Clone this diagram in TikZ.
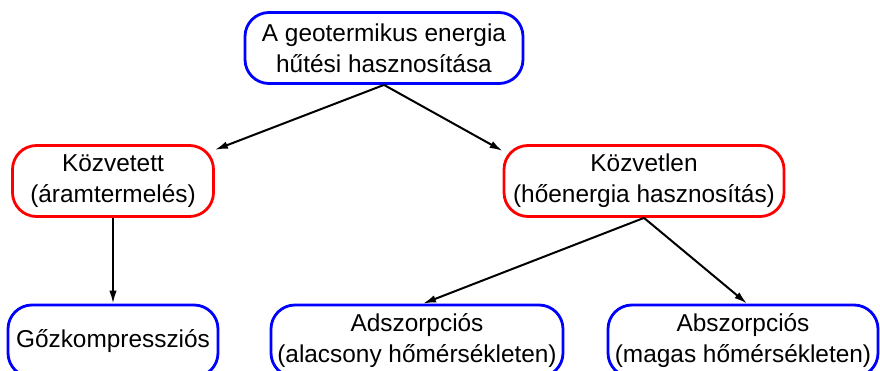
\documentclass[tikz,border=0pt]{standalone}
\usepackage{fontspec}
\setmainfont{Liberation Sans}
\usetikzlibrary{arrows.meta}
\tikzset{
	cooling tree/.style={
		x=1pt,y=-1pt, % one unit per pixel, y running downwards
		font=\fontsize{24.4}{31}\selectfont,
		branch edge/.style={
			line width=2pt,
			-{Latex[length=13pt,width=7.5pt]}
		}
	},
	use box/.style={
		rectangle,
		rounded corners=24pt,
		line width=2.8pt,
		align=center,
		minimum height=71pt,
		inner sep=0pt,
		fill=white
	},
	blue box/.style={
		use box,
		draw=blue
	},
	red box/.style={
		use box,
		draw=red
	}
}

\begin{document}
\begin{tikzpicture}[cooling tree]
	\useasboundingbox (0,0) rectangle (880,371);
	% root
	\node[blue box,minimum width=278pt] (hutes) at (384,48)
		{A geotermikus energia\\h\H{u}t\'esi hasznos\'it\'asa};
	% second level
	\node[red box,minimum width=201pt] (kozvetett) at (113,181)
		{K\"ozvetett\\(\'aramtermel\'es)};
	\node[red box,minimum width=280pt] (kozvetlen) at (644,181)
		{K\"ozvetlen\\(h\H{o}energia hasznos\'it\'as)};
	% leaves, cut by the lower edge
	\node[blue box,minimum width=210pt,minimum height=72pt] (gozkomp) at (113,341)
		{G\H{o}zkompresszi\'os};
	\node[blue box,minimum width=292pt,minimum height=72pt] (adszorp) at (417,341)
		{Adszorpci\'os\\(alacsony h\H{o}m\'ers\'ekleten)};
	\node[blue box,minimum width=270pt,minimum height=72pt] (abszorp) at (743,341)
		{Abszorpci\'os\\(magas h\H{o}m\'ers\'ekleten)};

	\draw[branch edge] (hutes.south) -- (kozvetett.17);
	\draw[branch edge] (hutes.south) -- (kozvetlen.168);
	\draw[branch edge] (kozvetett.south) -- (gozkomp.north);
	\draw[branch edge] (kozvetlen.south) -- ([xshift=6pt]adszorp.north);
	\draw[branch edge] (kozvetlen.south) -- ([xshift=4pt]abszorp.north);
\end{tikzpicture}
\end{document}
